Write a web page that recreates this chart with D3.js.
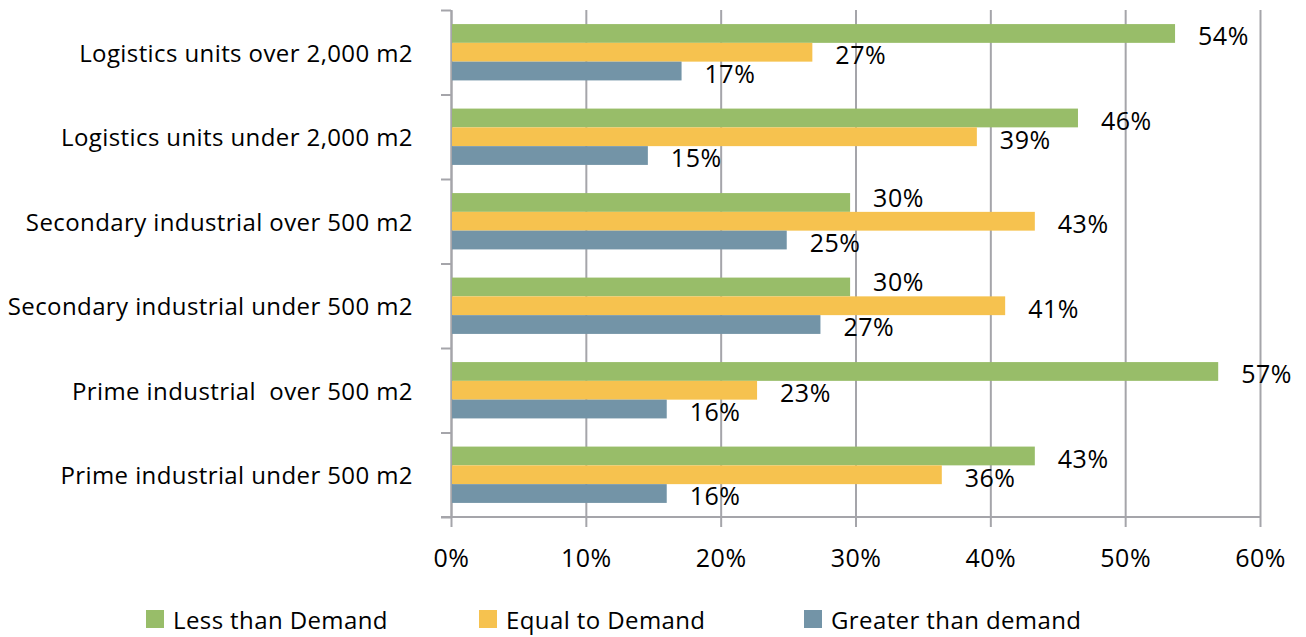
<!DOCTYPE html>
<html>
<head>
<meta charset="utf-8">
<script src="https://cdn.jsdelivr.net/npm/d3@7"></script>
<style>
  html, body { margin: 0; padding: 0; background: #fff; }
  svg text { font-family: "Open Sans", "Noto Sans", sans-serif; fill: #000; white-space: pre; }
</style>
</head>
<body>
<svg id="chart" width="1306" height="637"></svg>
<script>
// ---- data ----
const categories = [
  "Logistics units over 2,000 m2",
  "Logistics units under 2,000 m2",
  "Secondary industrial over 500 m2",
  "Secondary industrial under 500 m2",
  "Prime industrial  over 500 m2",
  "Prime industrial under 500 m2"
];
const seriesNames = ["Less than Demand", "Equal to Demand", "Greater than demand"];
const lessThanDemand    = [53.7, 46.5, 29.6, 29.6, 56.9, 43.3];
const equalToDemand     = [26.8, 39.0, 43.3, 41.1, 22.7, 36.4];
const greaterThanDemand = [17.1, 14.6, 24.9, 27.4, 16.0, 16.0];
const labelsLess    = ["54%", "46%", "30%", "30%", "57%", "43%"];
const labelsEqual   = ["27%", "39%", "43%", "41%", "23%", "36%"];
const labelsGreater = ["17%", "15%", "25%", "27%", "16%", "16%"];
const xTicks = [0, 10, 20, 30, 40, 50, 60];
const colors = ["#98bd69", "#f6c24f", "#7394a7"];

const seriesValues = [lessThanDemand, equalToDemand, greaterThanDemand];
const seriesLabels = [labelsLess, labelsEqual, labelsGreater];

// ---- layout ----
const pLeft = 451, pRight = 1260, pTop = 10, pBottom = 517;
const svg = d3.select("#chart");

const x = d3.scaleLinear().domain([0, 60]).range([pLeft, pRight]);
const y = d3.scaleBand().domain(categories).range([pTop, pBottom]).padding(0);
const ys = d3.scaleBand().domain(seriesNames).range([0, y.bandwidth()])
  .paddingInner(0).paddingOuter(0.75);
const yEdge = d3.scaleLinear().domain([0, categories.length]).range([pTop, pBottom]);

const gridColor = "#a5a5aa";

// vertical gridlines + bottom ticks
const xAxis = d3.axisBottom(x).tickValues(xTicks).tickFormat(d => d + "%")
  .tickSizeInner(-(pBottom - pTop)).tickSizeOuter(0).tickPadding(30);
const gx = svg.append("g").attr("transform", `translate(0,${pBottom})`).call(xAxis);
gx.select(".domain").remove();
gx.selectAll(".tick line").attr("stroke", gridColor).attr("stroke-width", 2);
gx.selectAll(".tick").append("line")
  .attr("y1", 0).attr("y2", 10).attr("stroke", gridColor).attr("stroke-width", 2);
gx.selectAll(".tick text").attr("font-size", 25).attr("letter-spacing", 0.5)
  .attr("dy", "0.35em").attr("y", 41).attr("font-family", null);

// bottom axis line
svg.append("line").attr("x1", pLeft - 10).attr("x2", pRight)
  .attr("y1", pBottom).attr("y2", pBottom)
  .attr("stroke", gridColor).attr("stroke-width", 2);

// left axis with ticks at category boundaries
const yAxis = d3.axisLeft(yEdge).ticks(categories.length).tickFormat("")
  .tickSizeInner(10).tickSizeOuter(0);
const gy = svg.append("g").attr("transform", `translate(${pLeft},0)`).call(yAxis);
gy.select(".domain").attr("stroke", gridColor).attr("stroke-width", 2);
gy.selectAll(".tick line").attr("stroke", gridColor).attr("stroke-width", 2);

// category labels
svg.append("g").selectAll("text").data(categories).join("text")
  .attr("x", pLeft - 38)
  .attr("y", d => y(d) + y.bandwidth() / 2 + 1)
  .attr("dy", "0.35em")
  .attr("text-anchor", "end")
  .attr("font-size", 24)
  .attr("letter-spacing", 0.4)
  .text(d => d);

// bars
seriesNames.forEach((s, si) => {
  const g = svg.append("g");
  g.selectAll("rect").data(categories).join("rect")
    .attr("x", x(0) + 1)
    .attr("y", (d) => y(d) + ys(s))
    .attr("width", (d, i) => x(seriesValues[si][i]) - x(0) - 1)
    .attr("height", ys.bandwidth())
    .attr("fill", colors[si]);
});

// data labels (lifted above the next bar when they would overlap it)
seriesNames.forEach((s, si) => {
  const g = svg.append("g");
  g.selectAll("text").data(categories).join("text")
    .attr("x", (d, i) => x(seriesValues[si][i]) + 23)
    .attr("y", (d, i) => {
      let cy = y(d) + ys(s) + ys.bandwidth() / 2 + 3;
      const lx = x(seriesValues[si][i]) + 23;
      if (si < seriesNames.length - 1 && x(seriesValues[si + 1][i]) > lx) {
        cy = y(d) + ys(seriesNames[si + 1]) - 14;
      }
      return cy;
    })
    .attr("dy", "0.35em")
    .attr("font-size", 25)
    .attr("letter-spacing", 0.5)
    .text((d, i) => seriesLabels[si][i]);
});

// legend
const legendX = [146, 479, 804];
const legend = svg.append("g");
seriesNames.forEach((s, si) => {
  legend.append("rect").attr("x", legendX[si]).attr("y", 610)
    .attr("width", 18).attr("height", 18).attr("fill", colors[si]);
  legend.append("text").attr("x", legendX[si] + 27).attr("y", 621)
    .attr("dy", "0.35em").attr("font-size", 24).attr("letter-spacing", 0.4).text(s);
});
</script>
</body>
</html>
